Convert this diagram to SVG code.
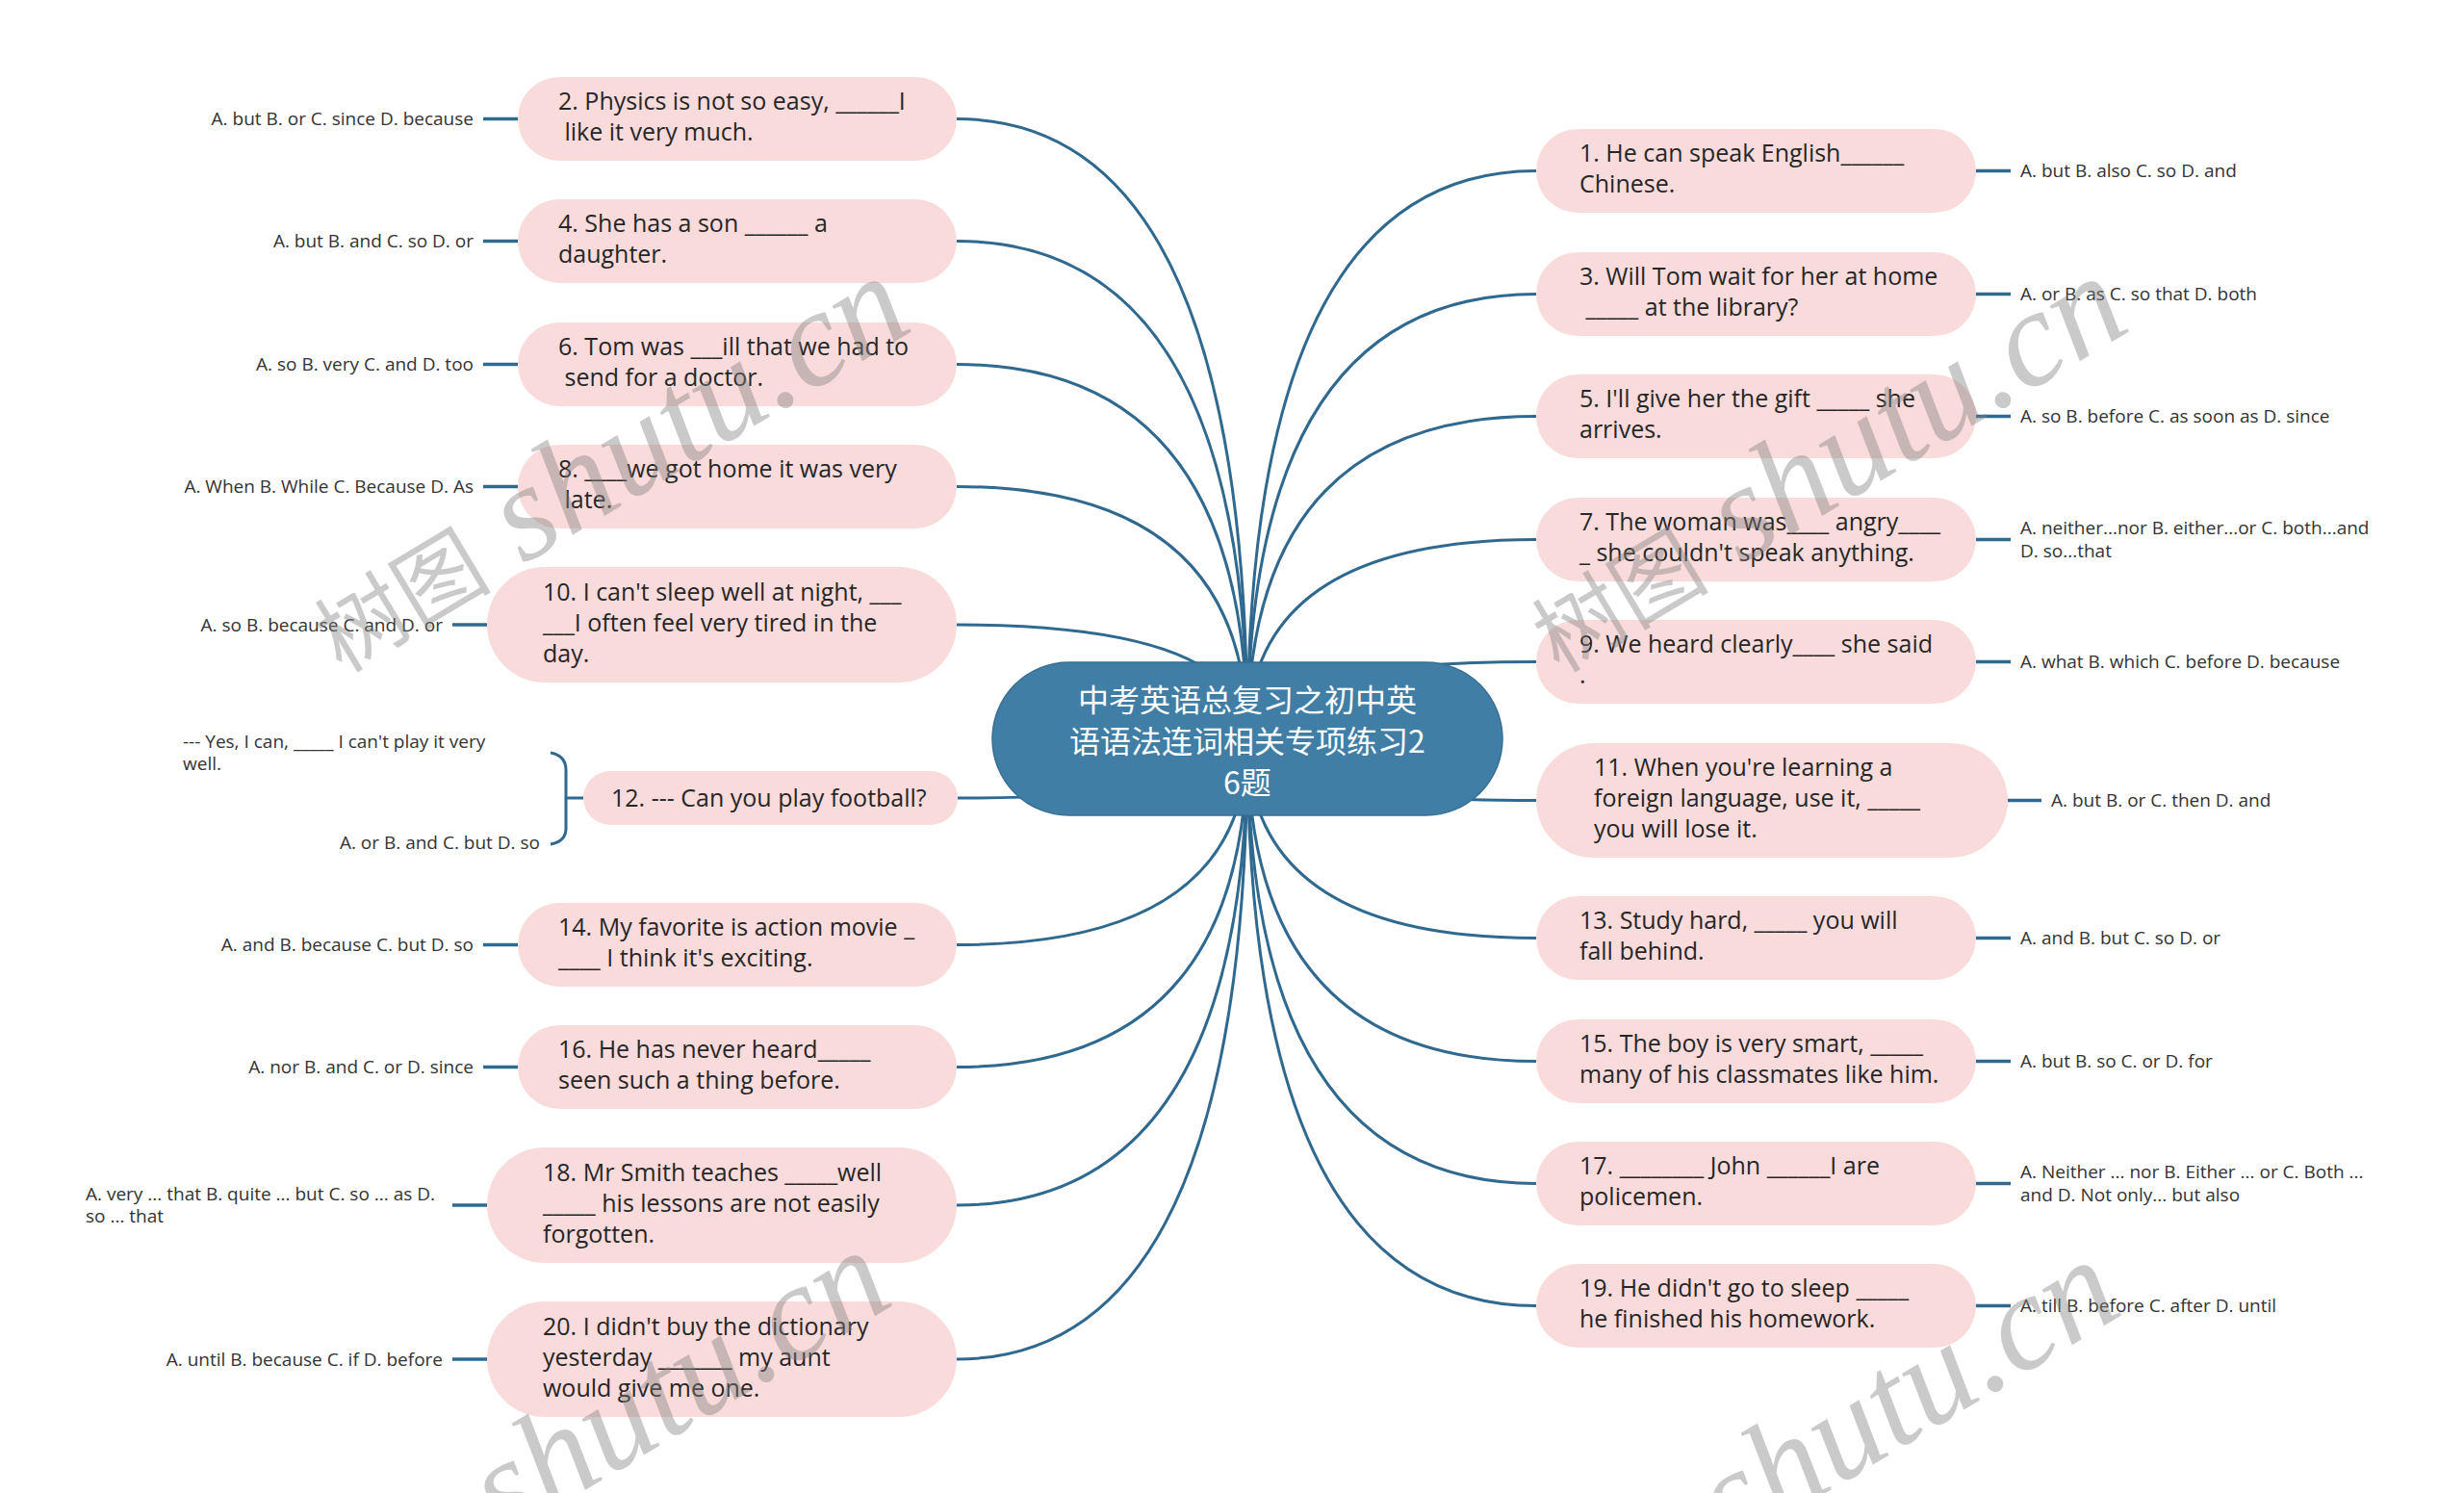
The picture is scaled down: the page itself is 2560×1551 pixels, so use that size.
<svg xmlns="http://www.w3.org/2000/svg" width="2560" height="1551" viewBox="0 0 2560 1551">
<style>
.bg{fill:#ffffff}
.pill{fill:#fadbdb}
.nt{font-family:"Open Sans","Noto Sans",sans-serif;font-size:25px;fill:#262626;white-space:pre}
.lb{font-family:"Open Sans","Noto Sans",sans-serif;font-size:19px;fill:#333333;white-space:pre}
.conn{fill:none;stroke:#30698f;stroke-width:3}
.stub{fill:none;stroke:#30698f;stroke-width:3.5}
.root{fill:#407ea6;stroke:#376f94;stroke-width:1.5}
.rt{font-family:"Noto Sans CJK SC","Noto Sans",sans-serif;font-size:32px;fill:#ffffff;text-anchor:middle}
.wm{fill:#808080;fill-opacity:0.42}
.wmc{font-family:"Noto Sans CJK SC",sans-serif;font-size:92px}
.wml{font-family:"Liberation Serif",serif;font-style:italic;font-size:142px}
</style>
<rect class="bg" x="0" y="0" width="2560" height="1551"/>

<g id="connectors">
<path class="conn" d="M994 123.5 Q1296 123.5 1296 767.5"/>
<path class="conn" d="M994 250.5 Q1296 250.5 1296 767.5"/>
<path class="conn" d="M994 378.5 Q1296 378.5 1296 767.5"/>
<path class="conn" d="M994 505.5 Q1296 505.5 1296 767.5"/>
<path class="conn" d="M994 649 Q1296 649 1296 767.5"/>
<path class="conn" d="M995 829 Q1296 829 1296 767.5"/>
<path class="conn" d="M994 981.5 Q1296 981.5 1296 767.5"/>
<path class="conn" d="M994 1108.5 Q1296 1108.5 1296 767.5"/>
<path class="conn" d="M994 1252 Q1296 1252 1296 767.5"/>
<path class="conn" d="M994 1412 Q1296 1412 1296 767.5"/>
<path class="conn" d="M1596 177.5 Q1296 177.5 1296 767.5"/>
<path class="conn" d="M1596 305.5 Q1296 305.5 1296 767.5"/>
<path class="conn" d="M1596 432.5 Q1296 432.5 1296 767.5"/>
<path class="conn" d="M1596 560.5 Q1296 560.5 1296 767.5"/>
<path class="conn" d="M1596 687.5 Q1296 687.5 1296 767.5"/>
<path class="conn" d="M1596 831.5 Q1296 831.5 1296 767.5"/>
<path class="conn" d="M1596 974.5 Q1296 974.5 1296 767.5"/>
<path class="conn" d="M1596 1102.5 Q1296 1102.5 1296 767.5"/>
<path class="conn" d="M1596 1229.5 Q1296 1229.5 1296 767.5"/>
<path class="conn" d="M1596 1356.5 Q1296 1356.5 1296 767.5"/>
<path class="stub" d="M502 123.5 H538 M502 250.5 H538 M502 378.5 H538 M502 505.5 H538 M470 649 H506 M502 981.5 H538 M502 1108.5 H538 M470 1252 H506 M470 1412 H506"/>
<path class="stub" d="M2053 177.5 H2089 M2053 305.5 H2089 M2053 432.5 H2089 M2053 560.5 H2089 M2053 687.5 H2089 M2086 831.5 H2121 M2053 974.5 H2089 M2053 1102.5 H2089 M2053 1229.5 H2089 M2053 1356.5 H2089"/>
<path class="conn" d="M572 782 Q588 785 588 800 V861 Q588 874 572 877 M588 829 H606"/>
</g>

<g id="root">
<rect class="root" x="1031" y="688" width="530" height="159" rx="79.5"/>
<text class="rt" x="1296" y="739">中考英语总复习之初中英</text>
<text class="rt" x="1296" y="782">语语法连词相关专项练习2</text>
<text class="rt" x="1296" y="825">6题</text>
</g>

<g id="n2"><rect class="pill" x="538" y="80" width="456" height="87" rx="43.5"/>
<text class="nt" x="580" y="113.5">2. Physics is not so easy, ______I</text><text class="nt" x="580" y="145.5"> like it very much.</text>
<text class="lb" x="492" y="130" text-anchor="end">A. but B. or C. since D. because</text></g>

<g id="n4"><rect class="pill" x="538" y="207" width="456" height="87" rx="43.5"/>
<text class="nt" x="580" y="240.5">4. She has a son ______ a</text><text class="nt" x="580" y="272.5">daughter.</text>
<text class="lb" x="492" y="257" text-anchor="end">A. but B. and C. so D. or</text></g>

<g id="n6"><rect class="pill" x="538" y="335" width="456" height="87" rx="43.5"/>
<text class="nt" x="580" y="368.5">6. Tom was ___ill that we had to</text><text class="nt" x="580" y="400.5"> send for a doctor.</text>
<text class="lb" x="492" y="385" text-anchor="end">A. so B. very C. and D. too</text></g>

<g id="n8"><rect class="pill" x="538" y="462" width="456" height="87" rx="43.5"/>
<text class="nt" x="580" y="495.5">8. ____we got home it was very</text><text class="nt" x="580" y="527.5"> late.</text>
<text class="lb" x="492" y="512" text-anchor="end">A. When B. While C. Because D. As</text></g>

<g id="n10"><rect class="pill" x="506" y="589" width="488" height="120" rx="60"/>
<text class="nt" x="564" y="624">10. I can't sleep well at night, ___</text><text class="nt" x="564" y="656">___I often feel very tired in the</text><text class="nt" x="564" y="688">day.</text>
<text class="lb" x="460" y="655.5" text-anchor="end">A. so B. because C. and D. or</text></g>

<g id="n12"><rect class="pill" x="606" y="801" width="389" height="56" rx="28"/>
<text class="nt" x="635" y="838">12. --- Can you play football?</text>
<text class="lb" x="190" y="777">--- Yes, I can, _____ I can't play it very</text><text class="lb" x="190" y="800">well.</text>
<text class="lb" x="561" y="882" text-anchor="end">A. or B. and C. but D. so</text></g>

<g id="n14"><rect class="pill" x="538" y="938" width="456" height="87" rx="43.5"/>
<text class="nt" x="580" y="971.5">14. My favorite is action movie _</text><text class="nt" x="580" y="1003.5">____ I think it's exciting.</text>
<text class="lb" x="492" y="988" text-anchor="end">A. and B. because C. but D. so</text></g>

<g id="n16"><rect class="pill" x="538" y="1065" width="456" height="87" rx="43.5"/>
<text class="nt" x="580" y="1098.5">16. He has never heard_____</text><text class="nt" x="580" y="1130.5">seen such a thing before.</text>
<text class="lb" x="492" y="1115" text-anchor="end">A. nor B. and C. or D. since</text></g>

<g id="n18"><rect class="pill" x="506" y="1192" width="488" height="120" rx="60"/>
<text class="nt" x="564" y="1227">18. Mr Smith teaches _____well</text><text class="nt" x="564" y="1259">_____ his lessons are not easily</text><text class="nt" x="564" y="1291">forgotten.</text>
<text class="lb" x="89" y="1247">A. very ... that B. quite ... but C. so ... as D.</text><text class="lb" x="89" y="1270">so ... that</text></g>

<g id="n20"><rect class="pill" x="506" y="1352" width="488" height="120" rx="60"/>
<text class="nt" x="564" y="1387">20. I didn't buy the dictionary</text><text class="nt" x="564" y="1419">yesterday _______ my aunt</text><text class="nt" x="564" y="1451">would give me one.</text>
<text class="lb" x="460" y="1418.5" text-anchor="end">A. until B. because C. if D. before</text></g>

<g id="n1"><rect class="pill" x="1596" y="134" width="457" height="87" rx="43.5"/>
<text class="nt" x="1641" y="167.5">1. He can speak English______</text><text class="nt" x="1641" y="199.5">Chinese.</text>
<text class="lb" x="2099" y="184">A. but B. also C. so D. and</text></g>

<g id="n3"><rect class="pill" x="1596" y="262" width="457" height="87" rx="43.5"/>
<text class="nt" x="1641" y="295.5">3. Will Tom wait for her at home</text><text class="nt" x="1641" y="327.5"> _____ at the library?</text>
<text class="lb" x="2099" y="312">A. or B. as C. so that D. both</text></g>

<g id="n5"><rect class="pill" x="1596" y="389" width="457" height="87" rx="43.5"/>
<text class="nt" x="1641" y="422.5">5. I'll give her the gift _____ she</text><text class="nt" x="1641" y="454.5">arrives.</text>
<text class="lb" x="2099" y="439">A. so B. before C. as soon as D. since</text></g>

<g id="n7"><rect class="pill" x="1596" y="517" width="457" height="87" rx="43.5"/>
<text class="nt" x="1641" y="550.5">7. The woman was____ angry____</text><text class="nt" x="1641" y="582.5">_ she couldn't speak anything.</text>
<text class="lb" x="2099" y="555">A. neither...nor B. either...or C. both...and</text><text class="lb" x="2099" y="579">D. so...that</text></g>

<g id="n9"><rect class="pill" x="1596" y="644" width="457" height="87" rx="43.5"/>
<text class="nt" x="1641" y="677.5">9. We heard clearly____ she said</text><text class="nt" x="1641" y="709.5">.</text>
<text class="lb" x="2099" y="694">A. what B. which C. before D. because</text></g>

<g id="n11"><rect class="pill" x="1596" y="772" width="490" height="119" rx="59.5"/>
<text class="nt" x="1656" y="806">11. When you're learning a</text><text class="nt" x="1656" y="838">foreign language, use it, _____</text><text class="nt" x="1656" y="870">you will lose it.</text>
<text class="lb" x="2131" y="838">A. but B. or C. then D. and</text></g>

<g id="n13"><rect class="pill" x="1596" y="931" width="457" height="87" rx="43.5"/>
<text class="nt" x="1641" y="964.5">13. Study hard, _____ you will</text><text class="nt" x="1641" y="996.5">fall behind.</text>
<text class="lb" x="2099" y="981">A. and B. but C. so D. or</text></g>

<g id="n15"><rect class="pill" x="1596" y="1059" width="457" height="87" rx="43.5"/>
<text class="nt" x="1641" y="1092.5">15. The boy is very smart, _____</text><text class="nt" x="1641" y="1124.5">many of his classmates like him.</text>
<text class="lb" x="2099" y="1109">A. but B. so C. or D. for</text></g>

<g id="n17"><rect class="pill" x="1596" y="1186" width="457" height="87" rx="43.5"/>
<text class="nt" x="1641" y="1219.5">17. ________ John ______I are</text><text class="nt" x="1641" y="1251.5">policemen.</text>
<text class="lb" x="2099" y="1224">A. Neither ... nor B. Either ... or C. Both ...</text><text class="lb" x="2099" y="1248">and D. Not only... but also</text></g>

<g id="n19"><rect class="pill" x="1596" y="1313" width="457" height="87" rx="43.5"/>
<text class="nt" x="1641" y="1346.5">19. He didn't go to sleep _____</text><text class="nt" x="1641" y="1378.5">he finished his homework.</text>
<text class="lb" x="2099" y="1363">A. till B. before C. after D. until</text></g>

<g id="watermarks" class="wm">
<text transform="translate(355 700) rotate(-31)"><tspan class="wmc">树图</tspan><tspan class="wml"> shutu.cn</tspan></text>
<text transform="translate(1620 700) rotate(-31)"><tspan class="wmc">树图</tspan><tspan class="wml"> shutu.cn</tspan></text>
<text transform="translate(335 1712) rotate(-31)"><tspan class="wmc">树图</tspan><tspan class="wml"> shutu.cn</tspan></text>
<text transform="translate(1612 1722) rotate(-31)"><tspan class="wmc">树图</tspan><tspan class="wml"> shutu.cn</tspan></text>
</g>
</svg>
